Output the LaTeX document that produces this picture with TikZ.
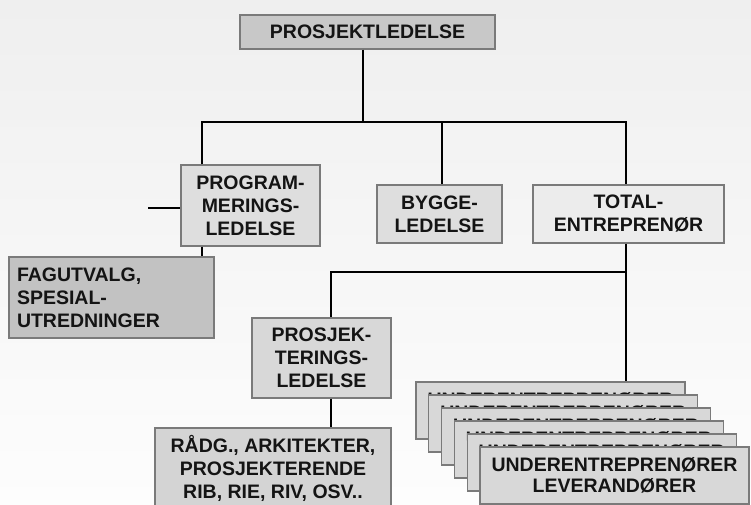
\documentclass[tikz,border=0pt]{standalone}
\usepackage{fontspec}
\setmainfont{Liberation Sans}
\begin{document}
\begin{tikzpicture}[x=1pt,y=-1pt,
  orgbox/.style={draw=boxedge, line width=1.3pt, inner sep=0pt, align=center,
    text=black!92, font=\fontsize{19.5}{23}\selectfont\bfseries},
  conn/.style={draw=black, line width=1.8pt},
  subbox/.style={orgbox, fill=fillD, minimum width=269pt, minimum height=57pt,
    font=\fontsize{19.5}{21}\selectfont\bfseries}
]
\definecolor{boxedge}{HTML}{7A7A7A}
\definecolor{fillA}{HTML}{C8C8C8}
\definecolor{fillB}{HTML}{DEDEDE}
\definecolor{fillC}{HTML}{C2C2C2}
\definecolor{fillD}{HTML}{D8D8D8}
\definecolor{fillE}{HTML}{ECECEC}
\definecolor{fillF}{HTML}{D4D4D4}
\definecolor{bgtop}{HTML}{EFEFEF}
\definecolor{bgbot}{HTML}{FDFDFD}

% page and background
\useasboundingbox (0,0) rectangle (751,505);
\clip (0,0) rectangle (751,505);
\fill[top color=bgtop, bottom color=bgbot] (0,0) rectangle (751,505);

% boxes
\node[orgbox, fill=fillA, minimum width=255pt, minimum height=34pt] (top) at (367.5,32) {PROSJEKTLEDELSE};
\node[orgbox, fill=fillB, minimum width=139pt, minimum height=81pt] (prog) at (250.5,205.5) {PROGRAM-\\MERINGS-\\LEDELSE};
\node[orgbox, fill=fillC, minimum width=205pt, minimum height=81pt, text width=189pt, align=left] (fag) at (111.5,297.5) {FAGUTVALG,\\SPESIAL-\\UTREDNINGER};
\node[orgbox, fill=fillB, minimum width=125pt, minimum height=58pt] (bygge) at (439.5,214) {BYGGE-\\LEDELSE};
\node[orgbox, fill=fillE, minimum width=191pt, minimum height=58pt] (total) at (628.5,214) {TOTAL-\\ENTREPRENØR};
\node[orgbox, fill=fillD, minimum width=139pt, minimum height=80pt] (prosj) at (321.5,358) {PROSJEK-\\TERINGS-\\LEDELSE};
\node[orgbox, fill=fillF, minimum width=236pt, minimum height=80pt] (radg) at (273,468) {RÅDG., ARKITEKTER,\\PROSJEKTERENDE\\RIB, RIE, RIV, OSV..};

% stacked sub-contractor cards
\foreach \i in {0,...,5} {
  \node[subbox] (sub\i) at ({550.5+12.8*\i},{410.5+13*\i}) {UNDERENTREPRENØRER\\LEVERANDØRER};
}

% junction points
\coordinate (jTop) at (363,122);
\coordinate (busL) at (202,122);
\coordinate (busB) at (442,122);
\coordinate (busR) at (626,122);
\coordinate (bus2L) at (331,272);
\coordinate (bus2R) at (626,272);
\coordinate (stub) at (148,208);

% connectors
\draw[conn] (top.south -| jTop) -- (jTop);
\draw[conn] (busL |- prog.north) -- (busL) -- (busR) -- (busR |- total.north);
\draw[conn] (busB) -- (busB |- bygge.north);
\draw[conn] (stub) -- (stub -| prog.west);
\draw[conn] (prog.south -| busL) -- (fag.north -| busL);
\draw[conn] (total.south -| busR) -- (bus2R) -- (busR |- sub0.north);
\draw[conn] (bus2R) -- (bus2L) -- (bus2L |- prosj.north);
\draw[conn] (prosj.south -| bus2L) -- (radg.north -| bus2L);
\end{tikzpicture}
\end{document}
